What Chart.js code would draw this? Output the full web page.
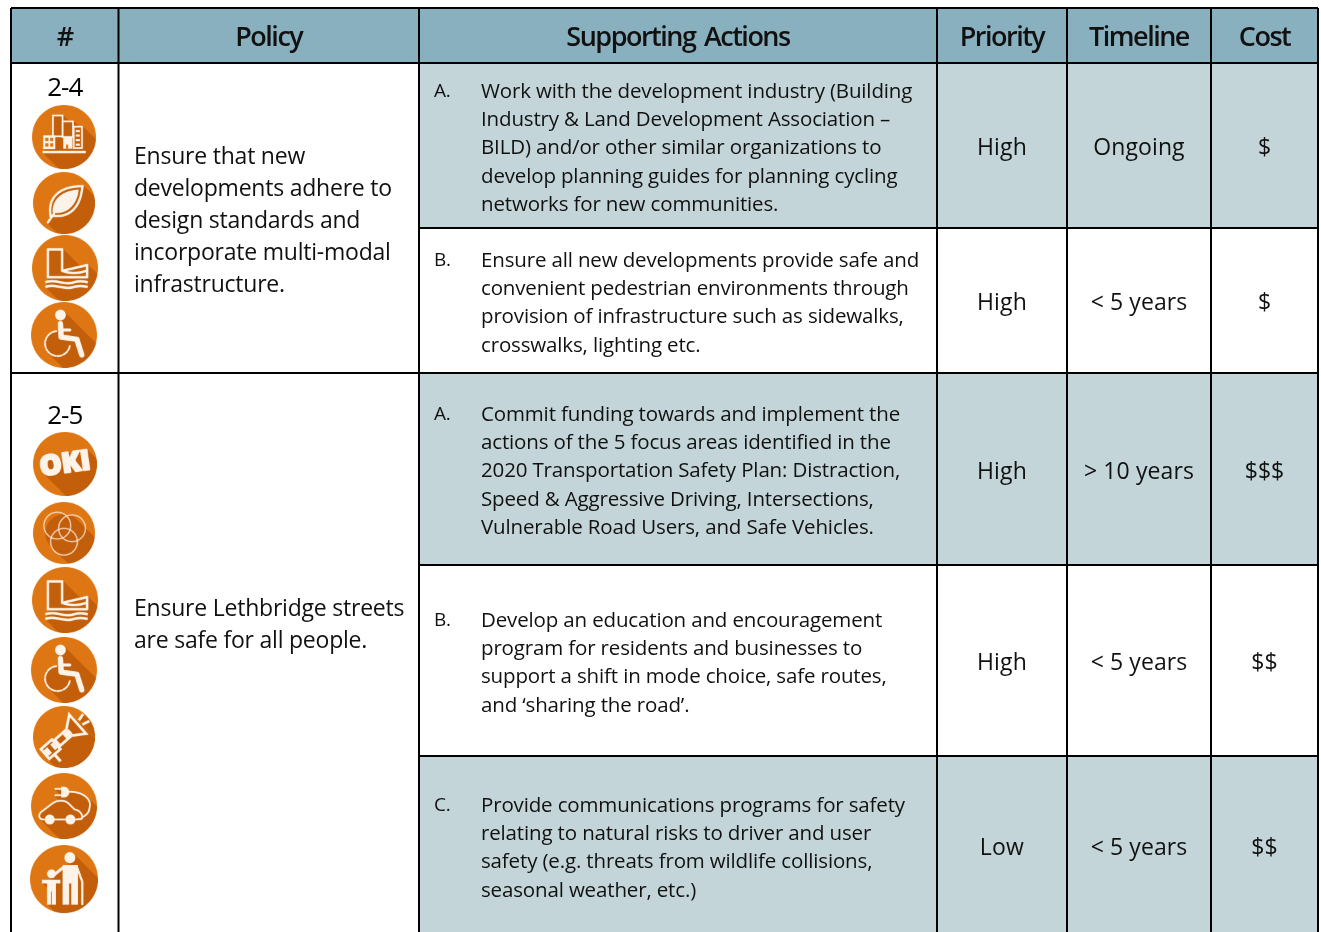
<!DOCTYPE html>
<html>
<head>
<meta charset="utf-8">
<title>Policy table</title>
<style>
html, body { margin: 0; padding: 0; background: #fff; overflow: hidden; }
#myChart { display: block; }
</style>
<script src="https://cdn.jsdelivr.net/npm/chart.js@4/dist/chart.umd.js"></script>
</head>
<body>
<canvas id="myChart" width="1321" height="932"></canvas>
<script>
// table content
const columns = ['#', 'Policy', 'Supporting Actions', 'Priority', 'Timeline', 'Cost'];
const policyIds = ['2-4', '2-5'];
const policyLines = [
    ['Ensure that new', 'developments adhere to', 'design standards and', 'incorporate multi-modal', 'infrastructure.'],
    ['Ensure Lethbridge streets', 'are safe for all people.']
];
const actionLetters = ['A.', 'B.', 'A.', 'B.', 'C.'];
const actionLines = [
    ['Work with the development industry (Building', 'Industry & Land Development Association \u2013', 'BILD) and/or other similar organizations to', 'develop planning guides for planning cycling', 'networks for new communities.'],
    ['Ensure all new developments provide safe and', 'convenient pedestrian environments through', 'provision of infrastructure such as sidewalks,', 'crosswalks, lighting etc.'],
    ['Commit funding towards and implement the', 'actions of the 5 focus areas identified in the', '2020 Transportation Safety Plan: Distraction,', 'Speed & Aggressive Driving, Intersections,', 'Vulnerable Road Users, and Safe Vehicles.'],
    ['Develop an education and encouragement', 'program for residents and businesses to', 'support a shift in mode choice, safe routes,', 'and \u2018sharing the road\u2019.'],
    ['Provide communications programs for safety', 'relating to natural risks to driver and user', 'safety (e.g. threats from wildlife collisions,', 'seasonal weather, etc.)']
];
const priorities = ['High', 'High', 'High', 'High', 'Low'];
const timelines = ['Ongoing', '< 5 years', '> 10 years', '< 5 years', '< 5 years'];
const costs = ['$', '$', '$$$', '$$', '$$'];
const icons = ['city', 'leaf', 'wave', 'access', 'oki', 'rings', 'wave', 'access', 'megaphone', 'car', 'family'];

// layout, in scale units (the scales run 1:1 with the canvas)
const colEdges = [11, 118.5, 419, 937, 1067, 1211, 1318];
const rowEdges = [63, 228, 373, 565, 756, 940];
const headTop = 8;
const iconX = [64, 64, 65, 64, 65, 64, 65, 64, 64, 64, 64];
const iconY = [137, 203, 268, 335, 464, 533, 600, 670, 737, 806, 879];
const iconR = [32, 31, 33, 33, 32, 31, 33, 33, 31, 33, 34];
const idY = [88.5, 416.5];
const headY = 38.5;
const policyY = [157, 609];
const policyStep = 32;
const actionY = [92, 261, 415, 621, 806];
const actionStep = 28.3;
const valueY = [148, 303, 472, 663, 848];

const HEAD_FILL = '#89b0be';
const ROW_FILL = '#c3d5d8';
const INK = '#111';
const FONT = '"Open Sans"';

// glyphs are drawn on a -100..100 box, c is the colour
const glyphs = {
    city(g, c) {
        g.fillStyle = c; g.strokeStyle = c; g.lineWidth = 5;
        g.strokeRect(-32, -62, 28, 60);
        g.strokeRect(-4, -45, 30, 45);
        g.strokeRect(28, -30, 24, 62);
        g.fillRect(-60, -5, 35, 40);
        g.fillRect(-2, 2, 26, 32);
        g.fillRect(-62, 40, 125, 7);
        g.fillStyle = '#de7713';
        g.fillRect(-54, 2, 9, 10); g.fillRect(-40, 2, 9, 10);
        g.fillRect(-54, 18, 9, 10); g.fillRect(-40, 18, 9, 10);
        g.fillRect(6, 22, 6, 14);
        g.fillStyle = c;
        for (let i = 0; i < 4; i++) g.fillRect(34, -20 + i * 13, 12, 6);
    },
    leaf(g, c) {
        g.strokeStyle = c; g.lineWidth = 7; g.lineCap = 'round';
        g.beginPath();
        g.moveTo(-40, 40);
        g.bezierCurveTo(-50, -20, -10, -50, 55, -50);
        g.bezierCurveTo(50, 10, 20, 45, -35, 38);
        g.stroke();
        g.fillStyle = c;
        g.beginPath();
        g.moveTo(-34, 28);
        g.bezierCurveTo(-36, -15, 0, -38, 44, -40);
        g.bezierCurveTo(40, 0, 15, 32, -26, 30);
        g.fill();
        g.beginPath();
        g.moveTo(-48, 58); g.lineTo(-30, 32);
        g.stroke();
    },
    wave(g, c) {
        g.strokeStyle = c; g.lineWidth = 7; g.lineJoin = 'round';
        g.beginPath();
        g.moveTo(-48, -52); g.lineTo(-8, -52); g.lineTo(-8, 8);
        g.lineTo(62, -8); g.lineTo(62, 26); g.lineTo(-48, 26); g.closePath();
        g.stroke();
        g.beginPath(); g.moveTo(-8, 8); g.quadraticCurveTo(25, 20, 60, 8); g.stroke();
        for (const y of [40, 53]) {
            g.beginPath();
            g.moveTo(-55, y);
            g.bezierCurveTo(-25, y - 10, 0, y + 10, 25, y);
            g.quadraticCurveTo(42, y - 5, 64, y);
            g.stroke();
        }
    },
    access(g, c) {
        g.fillStyle = c; g.strokeStyle = c; g.lineCap = 'round'; g.lineJoin = 'round';
        g.beginPath(); g.arc(-10, -56, 15, 0, 7); g.fill();
        g.lineWidth = 15;
        g.beginPath();
        g.moveTo(-10, -32); g.lineTo(-8, 6); g.lineTo(36, 12); g.lineTo(50, 56);
        g.stroke();
        g.lineWidth = 9;
        g.beginPath(); g.moveTo(-10, -14); g.lineTo(16, -14); g.stroke();
        g.lineWidth = 5;
        g.setLineDash([13, 5]);
        g.beginPath(); g.arc(-18, 24, 35, 0.2, 4.6); g.stroke();
        g.setLineDash([]);
    },
    oki(g, c) {
        g.rotate(-0.14);
        g.fillStyle = c;
        g.font = '800 80px "Open Sans"';
        g.textAlign = 'center'; g.textBaseline = 'middle';
        g.lineWidth = 6; g.strokeStyle = c; g.lineJoin = 'round';
        g.strokeText('OKI', 0, 2);
        g.fillText('OKI', 0, 2);
    },
    rings(g, c) {
        g.strokeStyle = c; g.lineWidth = 4; g.globalAlpha = 0.75;
        for (const [x, y] of [[-20, -22], [24, -14], [0, 26]]) {
            g.beginPath(); g.arc(x, y, 40, 0, 7); g.stroke();
        }
        g.globalAlpha = 1;
    },
    megaphone(g, c) {
        g.rotate(-0.72);
        g.fillStyle = c; g.strokeStyle = c; g.lineWidth = 8;
        g.strokeRect(-76, -18, 44, 38);
        g.fillRect(-72, -10, 14, 22);
        g.fillRect(-46, -10, 10, 22);
        g.beginPath(); g.moveTo(-26, -12); g.lineTo(20, -12); g.lineTo(56, -40); g.lineTo(56, 36);
        g.lineTo(20, 12); g.lineTo(-26, 12); g.closePath(); g.stroke();
        g.fillRect(2, -8, 24, 18);
        g.beginPath(); g.moveTo(66, -8); g.lineTo(88, -14); g.moveTo(66, 8); g.lineTo(88, 14); g.stroke();
        g.fillRect(-60, 20, 9, 28);
    },
    car(g, c) {
        g.strokeStyle = c; g.fillStyle = c; g.lineWidth = 5; g.lineJoin = 'round'; g.lineCap = 'round';
        g.beginPath();
        g.moveTo(-56, 38);
        g.bezierCurveTo(-74, 38, -72, 20, -60, 14);
        g.lineTo(-34, -6);
        g.bezierCurveTo(-18, -18, 2, -18, 14, -6);
        g.lineTo(30, 10);
        g.bezierCurveTo(44, 12, 54, 24, 50, 36);
        g.lineTo(34, 38);
        g.stroke();
        g.beginPath(); g.moveTo(-26, 38); g.lineTo(2, 38); g.stroke();
        g.beginPath(); g.arc(-40, 38, 14, 0, 7); g.fill();
        g.beginPath(); g.arc(18, 38, 14, 0, 7); g.fill();
        g.beginPath(); g.moveTo(16, -40); g.bezierCurveTo(50, -40, 78, -22, 72, 4); g.bezierCurveTo(70, 20, 62, 26, 50, 32); g.stroke();
        g.beginPath(); g.moveTo(0, -54); g.lineTo(-8, -54); g.lineTo(-8, -24); g.lineTo(0, -24); g.arc(0, -39, 15, 1.57, -1.57, true); g.closePath(); g.fill();
        g.beginPath(); g.moveTo(-24, -48); g.lineTo(-10, -48); g.moveTo(-24, -30); g.lineTo(-10, -30); g.stroke();
    },
    family(g, c) {
        g.fillStyle = c; g.strokeStyle = c; g.lineCap = 'round';
        g.beginPath(); g.arc(16, -58, 15, 0, 7); g.fill();
        g.fillRect(-4, -38, 42, 50);
        g.fillRect(-4, 8, 18, 62);
        g.fillRect(20, 8, 18, 62);
        g.lineWidth = 8;
        g.beginPath(); g.moveTo(0, -33); g.lineTo(-26, -12); g.stroke();
        g.lineWidth = 6;
        g.beginPath(); g.moveTo(36, -30); g.lineTo(50, 8); g.lineTo(50, 68); g.stroke();
        g.beginPath(); g.arc(-34, -14, 12, 0, 7); g.fill();
        g.fillRect(-60, 2, 50, 10);
        g.fillRect(-46, 2, 24, 32);
        g.fillRect(-46, 30, 11, 40);
        g.fillRect(-33, 30, 11, 40);
    }
};

// circle with a long diagonal shadow and the white glyph on top
function makeIcon(name, r) {
    const pad = 2, s = 3;
    const size = (r + pad) * 2;
    const big = document.createElement('canvas');
    big.width = big.height = size * s;
    const g = big.getContext('2d');
    g.scale(s, s);
    g.translate(size / 2, size / 2);
    g.beginPath();
    g.arc(0, 0, r, 0, Math.PI * 2);
    g.fillStyle = '#de7713';
    g.fill();
    g.clip();
    const k = r / 100 * 1.08;
    for (let d = 0; d < r * 1.6; d += 1) {
        g.save();
        g.translate(d, d);
        g.scale(k, k);
        if (name !== 'rings') glyphs[name](g, '#c35f0b');
        else { g.fillStyle = '#c35f0b'; g.beginPath(); g.arc(0, 0, 56, 0, 7); g.fill(); }
        g.restore();
    }
    g.save();
    g.scale(k, k);
    glyphs[name](g, '#fdf3e8');
    g.restore();
    // Chart.js draws a canvas point at its own pixel size
    const cv = document.createElement('canvas');
    cv.width = cv.height = size;
    const out = cv.getContext('2d');
    out.imageSmoothingQuality = 'high';
    out.drawImage(big, 0, 0, size, size);
    return { canvas: cv, size: size };
}

const iconArt = icons.map((name, i) => makeIcon(name, iconR[i]));

function cellBar(x0, x1, y0, y1, fill) {
    return {
        type: 'bar',
        indexAxis: 'y',
        grouped: false,
        barThickness: y1 - y0,
        backgroundColor: fill,
        borderWidth: 0,
        data: [{ y: (y0 + y1) / 2, x: [x0, x1] }]
    };
}

function rule(x0, y0, x1, y1) {
    return {
        type: 'scatter',
        showLine: true,
        indexAxis: 'x',
        borderColor: '#000',
        borderWidth: 2,
        pointRadius: 0,
        data: [{ x: x0, y: y0 }, { x: x1, y: y1 }]
    };
}

function getDatasets() {
    const sets = [];
    // first dataset ends up on top
    sets.push({
        type: 'scatter',
        indexAxis: 'x',
        data: icons.map((name, i) => ({ x: iconX[i], y: iconY[i] })),
        pointStyle: iconArt.map(a => a.canvas),
        pointRadius: iconArt.map(a => a.size / 2)
    });
    const bottom = rowEdges[rowEdges.length - 1];
    colEdges.forEach(x => sets.push(rule(x, headTop, x, bottom)));
    sets.push(rule(colEdges[0], headTop, colEdges[6], headTop));
    sets.push(rule(colEdges[0], rowEdges[0], colEdges[6], rowEdges[0]));
    sets.push(rule(colEdges[0], rowEdges[2], colEdges[6], rowEdges[2]));
    [1, 3, 4].forEach(r => sets.push(rule(colEdges[2], rowEdges[r], colEdges[6], rowEdges[r])));
    sets.push(cellBar(colEdges[0], colEdges[6], headTop, rowEdges[0], HEAD_FILL));
    [0, 2, 4].forEach(r => sets.push(cellBar(colEdges[2], colEdges[6], rowEdges[r], rowEdges[r + 1], ROW_FILL)));
    return sets;
}

function putText(ctx, text, x, y, font, align, spacing) {
    ctx.font = font;
    ctx.textAlign = align;
    ctx.textBaseline = 'middle';
    ctx.letterSpacing = spacing + 'px';
    ctx.fillText(text, x, y);
}

const tableText = {
    id: 'tableText',
    afterDatasetsDraw(chart) {
        const ctx = chart.ctx;
        const sx = chart.scales.x, sy = chart.scales.y;
        const px = v => sx.getPixelForValue(v);
        const py = v => sy.getPixelForValue(v);
        ctx.save();
        ctx.fillStyle = INK;
        const mid = i => px((colEdges[i] + colEdges[i + 1]) / 2);
        const headFont = '600 27px ' + FONT;
        ctx.wordSpacing = '3px';
        columns.forEach((c, i) => putText(ctx, c, mid(i), py(headY), headFont, 'center', -1.5));
        ctx.wordSpacing = '0px';
        policyIds.forEach((id, i) => {
            ctx.fillStyle = '#000';
            putText(ctx, id, mid(0), py(idY[i]), '500 26px ' + FONT, 'center', -1);
            ctx.fillStyle = INK;
            policyLines[i].forEach((l, j) => {
                putText(ctx, l, px(134), py(policyY[i] + j * policyStep), '400 23px ' + FONT, 'left', -0.22);
            });
        });
        actionLines.forEach((lines, i) => {
            putText(ctx, actionLetters[i], px(434), py(actionY[i]), '400 19px ' + FONT, 'left', -0.3);
            lines.forEach((l, j) => {
                putText(ctx, l, px(481), py(actionY[i] + j * actionStep), '400 20.5px ' + FONT, 'left', -0.15);
            });
            const valueFont = '400 23px ' + FONT;
            putText(ctx, priorities[i], mid(3), py(valueY[i]), valueFont, 'center', 0.2);
            putText(ctx, timelines[i], mid(4), py(valueY[i]), valueFont, 'center', 0.1);
            putText(ctx, costs[i], mid(5), py(valueY[i]), valueFont, 'center', 0);
        });
        ctx.restore();
    }
};

new Chart(document.getElementById('myChart').getContext('2d'), {
    type: 'bar',
    data: { datasets: getDatasets() },
    plugins: [tableText],
    options: {
        responsive: false,
        animation: false,
        layout: { padding: 0, autoPadding: false },
        plugins: { legend: { display: false }, tooltip: { enabled: false } },
        scales: {
            x: { type: 'linear', min: 0, max: 1321, display: false, offset: false },
            y: { type: 'linear', min: 0, max: 932, reverse: true, display: false, offset: false }
        }
    }
});
</script>
</body>
</html>
